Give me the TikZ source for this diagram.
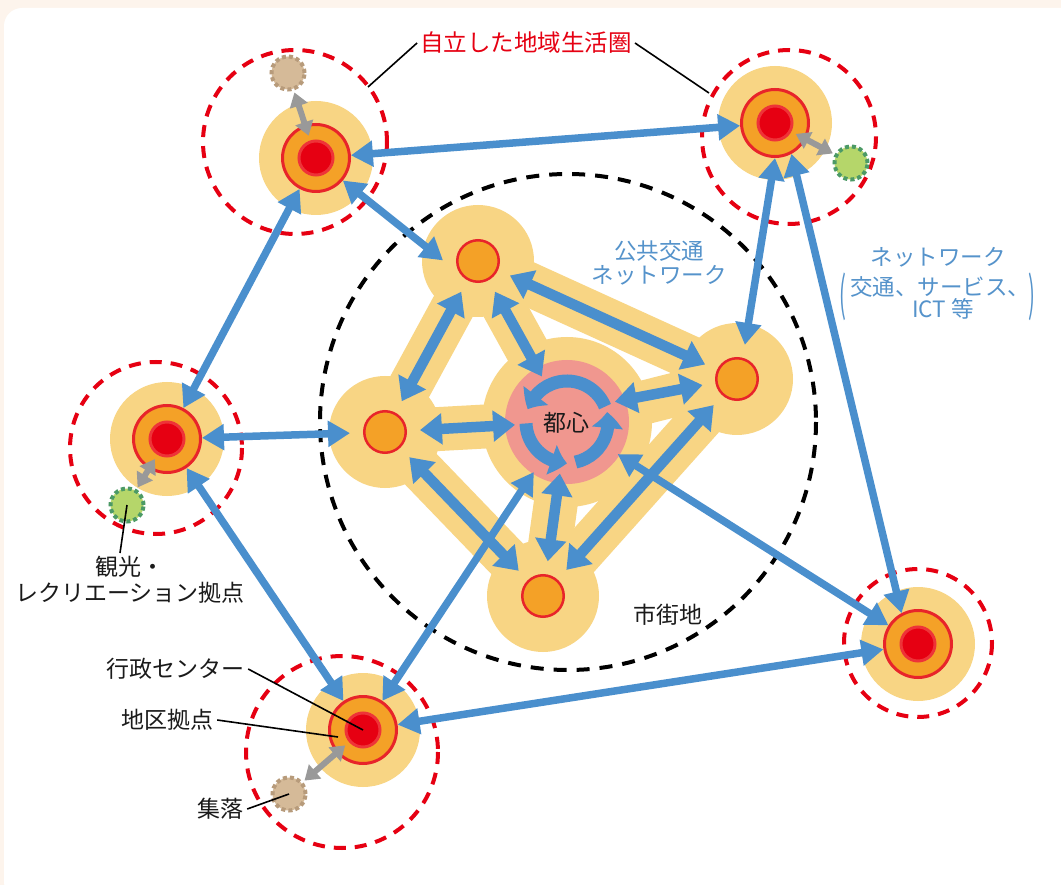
\documentclass[tikz,border=0pt]{standalone}
\usepackage{fontspec}
\usepackage{graphicx}
\setmainfont{Noto Sans CJK JP}
\usetikzlibrary{arrows.meta,bending,calc}
\definecolor{bgc}{HTML}{FDF4EC}
\definecolor{padY}{HTML}{F8D584}
\definecolor{orng}{HTML}{F4A127}
\definecolor{redR}{HTML}{E8242A}
\definecolor{redL}{HTML}{EE3338}
\definecolor{redC}{HTML}{E60012}
\definecolor{pinkM}{HTML}{F0978F}
\definecolor{arrB}{HTML}{4A8FCD}
\definecolor{grayA}{HTML}{999999}
\definecolor{beigeS}{HTML}{D5BA98}
\definecolor{beigeB}{HTML}{B79B7B}
\definecolor{greenS}{HTML}{B5D66A}
\definecolor{greenB}{HTML}{4C9A66}
\definecolor{txtB}{HTML}{5593CB}
\definecolor{txtK}{HTML}{1A1A1A}
\begin{document}
\begin{tikzpicture}[x=1pt,y=-1pt,
  pad/.style={circle,fill=padY,inner sep=0pt,minimum size=#1},
  band/.style={draw=padY,line width=44pt,line cap=round},
  regc/.style={circle,fill=orng,draw=redR,line width=3pt,minimum size=67pt,inner sep=0pt},
  regr/.style={circle,fill=redC,draw=redL,line width=3pt,minimum size=34pt,inner sep=0pt},
  subc/.style={circle,fill=orng,draw=redR,line width=2.5pt,minimum size=41.5pt,inner sep=0pt},
  hook/.style={circle,inner sep=0pt,outer sep=0pt,minimum size=#1},
  rdash/.style={draw=redC,line width=4pt,dash pattern=on 12pt off 9pt},
  kdash/.style={draw=black,line width=4pt,dash pattern=on 13pt off 10pt},
  beigesat/.style={circle,fill=beigeS,draw=beigeB,line width=4pt,dash pattern=on 4pt off 3pt,minimum size=33pt,inner sep=0pt},
  greensat/.style={circle,fill=greenS,draw=greenB,line width=4pt,dash pattern=on 4pt off 3pt,minimum size=33pt,inner sep=0pt},
  oarr/.style={draw=arrB,line width=7.5pt,{Triangle[length=22pt,width=25pt]}-{Triangle[length=22pt,width=25pt]}},
  iarr/.style={draw=arrB,line width=10.5pt,{Triangle[length=22pt,width=30pt]}-{Triangle[length=22pt,width=30pt]}},
  garr/.style={draw=grayA,line width=6pt,{Triangle[length=14pt,width=18pt]}-{Triangle[length=14pt,width=18pt]}},
  ringarr/.style={draw=arrB,line width=13pt,-{Triangle[length=16pt,width=30pt,bend]}},
  lead/.style={draw=black,line width=1.6pt},
  lbl/.style={text=txtK,font=\fontsize{23}{26}\selectfont,inner sep=4pt,align=center},
  blbl/.style={text=txtB,font=\fontsize{22.5}{23.5}\selectfont,inner sep=2pt,align=center},
]
\useasboundingbox (0,0) rectangle (1061,885);
\fill[bgc] (0,0) rectangle (1061,885);
\fill[white,rounded corners=18pt] (4,8) rectangle (1080,900);

% dashed circles
\draw[rdash] (295,142) circle[radius=92];
\draw[rdash] (789,137) circle[radius=87];
\draw[rdash] (156,448) circle[radius=86];
\draw[rdash] (342,752) circle[radius=96];
\draw[rdash] (918,643) circle[radius=74];
\draw[kdash] (568,422) circle[radius=248];

% hooks for city nodes
\node[hook=70pt] (A) at (478,261) {};
\node[hook=70pt] (B) at (385,432) {};
\node[hook=70pt] (C) at (737,379) {};
\node[hook=70pt] (D) at (543,596) {};
\node[hook=104pt] (Mi) at (567,422) {};
\node[hook=120pt] (Mo) at (567,422) {};

% yellow bands
\draw[band] (A.center) -- (B.center);
\draw[band] (A.center) -- (C.center);
\draw[band] (A.center) -- (Mi.center);
\draw[band] (B.center) -- (Mi.center);
\draw[band] (C.center) -- (Mi.center);
\draw[band] (B.center) -- (D.center);
\draw[band] (C.center) -- (D.center);
\draw[band] (D.center) -- (Mi.center);

% pads
\node[pad=112pt] (Ap) at (A) {};
\node[pad=112pt] (Bp) at (B) {};
\node[pad=112pt] (Cp) at (C) {};
\node[pad=112pt] (Dp) at (D) {};
\node[pad=170pt] (Mp) at (Mi) {};
\node[circle,fill=pinkM,minimum size=124pt,inner sep=0pt] (Mpink) at (Mi) {};

\node[pad=114pt] (TLp) at (316,158) {};
\node[pad=114pt] (TRp) at (775,123) {};
\node[pad=114pt] (Lp) at (167,439) {};
\node[pad=114pt] (BLp) at (363,730) {};
\node[pad=114pt] (RBp) at (918,644) {};

% city sub nodes
\node[subc] (Ao) at (A) {};
\node[subc] (Bo) at (B) {};
\node[subc] (Co) at (C) {};
\node[subc] (Do) at (D) {};

% regional centres
\node[regc] (TL) at (TLp) {};
\node[regc] (TR) at (TRp) {};
\node[regc] (L) at (Lp) {};
\node[regc] (BL) at (BLp) {};
\node[regc] (RB) at (RBp) {};
\node[regr] (TLr) at (TL) {};
\node[regr] (TRr) at (TR) {};
\node[regr] (Lr) at (L) {};
\node[regr] (BLr) at (BL) {};
\node[regr] (RBr) at (RB) {};

% satellites
\node[beigesat] (S1) at (288,73) {};
\node[greensat] (S2) at (851,163) {};
\node[greensat] (S3) at (127,505) {};
\node[beigesat] (S4) at (289,794) {};

% ring arrows in the centre
\begin{scope}[shift={(567,422)},x=1pt,y=1pt]
\draw[ringarr] (22:41) arc[start angle=22,end angle=162,radius=41];
\draw[ringarr] (182:41) arc[start angle=182,end angle=270,radius=41];
\draw[ringarr] (282:41) arc[start angle=282,end angle=374,radius=41];
\end{scope}
\node[lbl,inner sep=0pt] (toshin) at (566,423) {都心};

% inner arrows
\draw[iarr] (A) -- (B);
\draw[iarr] (A) -- (Mi);
\draw[iarr] (A) -- (C);
\draw[iarr] (B) -- (Mi);
\draw[iarr] (Mi.23) -- (C.190);
\draw[iarr] (B) -- (D);
\draw[iarr] (D) -- (Mi);
\draw[iarr] (C) -- (D);

% outer arrows
\draw[oarr] (TL) -- (TR);
\draw[oarr] (TL.-40) -- (A.179);
\draw[oarr] (TL) -- (L);
\draw[oarr] (TR.-90) -- (C.77);
\draw[oarr] (TR.-62) -- (RB.118);
\draw[oarr] (L) -- (B);
\draw[oarr] (L) -- (BL);
\draw[oarr] (BL) -- (Mo);
\draw[oarr] (BL) -- (RB);
\draw[oarr] (RB) -- (Mo);

% gray arrows
\draw[garr,shorten >=5pt,shorten <=2pt] (S1) -- (TLr);
\draw[garr,shorten >=5pt,shorten <=2pt] (S2) -- (TRr);
\draw[garr,shorten >=5pt,shorten <=2pt] (S3) -- (Lr);
\draw[garr,shorten >=5pt,shorten <=2pt] (S4) -- (BLr);

% labels
\node[text=redC,font=\fontsize{23.5}{26}\selectfont,inner sep=3pt] (title) at (526,43) {自立した地域生活圏};
\coordinate (tl) at (368,87);
\coordinate (tr) at (709,93);
\draw[lead] (title.west) -- (tl);
\draw[lead] (title.east) -- (tr);

\node[blbl] (kokyo) at (659,263) {公共交通\\ネットワーク};
\node[blbl] (nw1) at (938,257) {ネットワーク};
\node[blbl] (nw2) at (940,287) {交通、サービス、};
\node[blbl] (nw3) at (943,309) {ICT 等};
\node[blbl] (lp) at (843,297) {\scalebox{0.9}[2.1]{(}};
\node[blbl] (rp) at (1032,297) {\scalebox{0.9}[2.1]{)}};

\node[lbl] (shigai) at (668,615) {市街地};
\node[lbl] (kanko) at (130,580) {観光・\\レクリエーション拠点};
\coordinate (kt) at (120,553);
\draw[lead] (S3.center) -- (kt);

\node[lbl] (gyosei) at (175,669) {行政センター};
\draw[lead] (gyosei.east) -- (BLr.center);
\node[lbl] (chiku) at (167,720) {地区拠点};
\coordinate (ck) at (338,737);
\draw[lead] (chiku.east) -- (ck);
\node[lbl] (shuraku) at (220,809) {集落};
\draw[lead] (shuraku.east) -- (S4.center);
\end{tikzpicture}
\end{document}
